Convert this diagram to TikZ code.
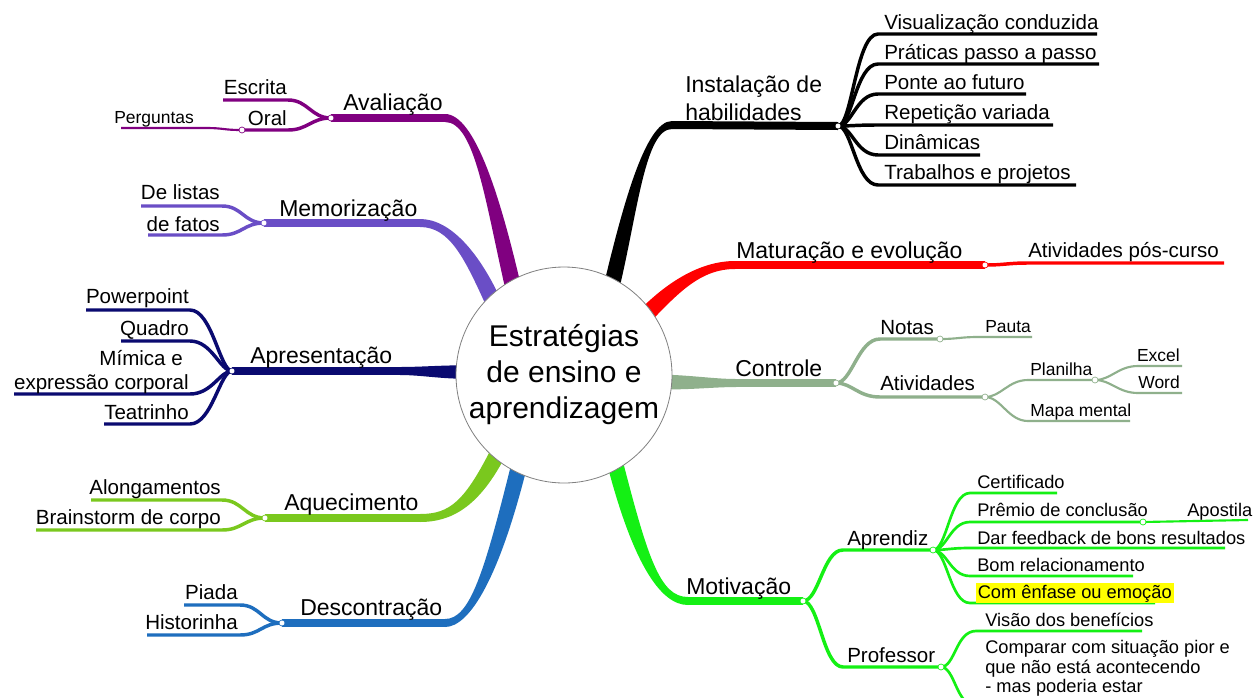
\documentclass[tikz,border=0pt]{standalone}
\usepackage{fontspec}
\setmainfont{Liberation Sans}
\usetikzlibrary{calc}
\definecolor{cAval}{RGB}{128,0,128}
\definecolor{cMemo}{RGB}{106,78,198}
\definecolor{cApre}{RGB}{10,10,112}
\definecolor{cAque}{RGB}{122,200,30}
\definecolor{cDesc}{RGB}{30,110,190}
\definecolor{cInst}{RGB}{0,0,0}
\definecolor{cMatu}{RGB}{255,0,0}
\definecolor{cCont}{RGB}{143,176,140}
\definecolor{cMoti}{RGB}{20,240,20}
\definecolor{cHl}{RGB}{255,255,0}
\definecolor{cRim}{RGB}{128,128,128}
% tapered main branch: colour, P0, C1, C2, P3, half width at start, half width at end
\newcommand\mmtaper[7]{%
  \fill[#1] ($(#2)!#6!90:(#3)$) .. controls ($(#3)!#6!-90:(#2)$) and ($(#4)!#7!90:(#5)$) .. ($(#5)!#7!-90:(#4)$)
    -- ($(#5)!#7!90:(#4)$) .. controls ($(#4)!#7!-90:(#5)$) and ($(#3)!#6!90:(#2)$) .. ($(#2)!#6!-90:(#3)$) -- cycle;}
\begin{document}
\begin{tikzpicture}[x=0.75pt,y=-0.75pt,
  mainlbl/.style={inner sep=0pt, font=\fontsize{17.25pt}{21pt}\selectfont},
  sublbl/.style={inner sep=0pt, font=\fontsize{15.4pt}{18pt}\selectfont},
  smlbl/.style={inner sep=0pt, font=\fontsize{13.1pt}{15pt}\selectfont},
  motlbl/.style={inner sep=0pt, font=\fontsize{13.7pt}{15pt}\selectfont},
  bar/.style={line width=6pt},
  lvtwo/.style={line width=2.6pt},
  lvthree/.style={line width=1.6pt},
  jdot/.style={circle, fill=white, draw=#1, line width=0.5pt, inner sep=0pt, minimum size=4.5pt},
]
\useasboundingbox (0,0) rectangle (1257,697);
\fill[white] (0,0) rectangle (1257,697);
\clip (0,0) rectangle (1257,697);

% ---------------- Avaliação
\coordinate (av0) at (514,291);
\coordinate (av1) at (493,200);
\coordinate (av2) at (475,118);
\coordinate (av3) at (445,118);
\coordinate (avJ) at (331,118);
\coordinate (avEs) at (288,100); \coordinate (avEsE) at (223,100);
\coordinate (avOr) at (288,130); \coordinate (avOrE) at (242,130);
\coordinate (avPe) at (205,128); \coordinate (avPeE) at (121,128);
\mmtaper{cAval}{av0}{av1}{av2}{av3}{6pt}{3pt}
\draw[cAval,bar] (av3) -- (avJ);
\draw[cAval,lvtwo] (avJ) .. controls +(-20,0) and +(20,0) .. (avEs) -- (avEsE);
\draw[cAval,lvtwo] (avJ) .. controls +(-20,0) and +(20,0) .. (avOr) -- (avOrE);
\draw[cAval,lvthree] (avOrE) .. controls +(-20,0) and +(20,0) .. (avPe) -- (avPeE);
\node[jdot=cAval] (avJd) at (avJ) {};
\node[jdot=cAval] (avOd) at (avOrE) {};
\node[mainlbl,anchor=base west] (avL) at (343,110) {Avaliação};
\node[sublbl,anchor=base east] (esL) at (287,94) {Escrita};
\node[sublbl,anchor=base east] (orL) at (287,125) {Oral};
\node[smlbl,anchor=base west] (peL) at (114,123) {Perguntas};

% ---------------- Memorização
\coordinate (mm0) at (495,306);
\coordinate (mm1) at (472,255);
\coordinate (mm2) at (450,223);
\coordinate (mm3) at (420,223);
\coordinate (mmJ) at (264,223);
\coordinate (mmA) at (222,206); \coordinate (mmAE) at (141,206);
\coordinate (mmB) at (222,235); \coordinate (mmBE) at (148,235);
\mmtaper{cMemo}{mm0}{mm1}{mm2}{mm3}{6pt}{3pt}
\draw[cMemo,bar] (mm3) -- (mmJ);
\draw[cMemo,lvtwo] (mmJ) .. controls +(-20,0) and +(20,0) .. (mmA) -- (mmAE);
\draw[cMemo,lvtwo] (mmJ) .. controls +(-20,0) and +(20,0) .. (mmB) -- (mmBE);
\node[jdot=cMemo] (mmJd) at (mmJ) {};
\node[mainlbl,anchor=base west] (mmL) at (279,216) {Memorização};
\node[sublbl,anchor=base east] (dlL) at (220,199) {De listas};
\node[sublbl,anchor=base east] (dfL) at (220,231) {de fatos};

% ---------------- Apresentação
\coordinate (ap0) at (462,372);
\coordinate (ap1) at (440,372);
\coordinate (ap2) at (420,371);
\coordinate (ap3) at (400,371);
\coordinate (apJ) at (232,371);
\coordinate (apP) at (190,310); \coordinate (apPE) at (86,310);
\coordinate (apQ) at (190,341); \coordinate (apQE) at (121,341);
\coordinate (apM) at (190,394); \coordinate (apME) at (14,394);
\coordinate (apT) at (190,424); \coordinate (apTE) at (104,424);
\mmtaper{cApre}{ap0}{ap1}{ap2}{ap3}{5pt}{3pt}
\draw[cApre,bar] (ap3) -- (apJ);
\draw[cApre,lvtwo] (apJ) .. controls +(-12,0) and +(22,0) .. (apP) -- (apPE);
\draw[cApre,lvtwo] (apJ) .. controls +(-12,0) and +(22,0) .. (apQ) -- (apQE);
\draw[cApre,lvtwo] (apJ) .. controls +(-12,0) and +(22,0) .. (apM) -- (apME);
\draw[cApre,lvtwo] (apJ) .. controls +(-12,0) and +(22,0) .. (apT) -- (apTE);
\node[jdot=cApre] (apJd) at (apJ) {};
\node[mainlbl,anchor=base west] (apL) at (250,363) {Apresentação};
\node[sublbl,anchor=base east] (ppL) at (189,303) {Powerpoint};
\node[sublbl,anchor=base east] (quL) at (189,335) {Quadro};
\node[sublbl,anchor=base east] (miL) at (183,365) {Mímica e};
\node[sublbl,anchor=base east] (exL) at (189,389) {expressão corporal};
\node[sublbl,anchor=base east] (teL) at (189,419) {Teatrinho};

% ---------------- Aquecimento
\coordinate (aq0) at (500,449);
\coordinate (aq1) at (472,505);
\coordinate (aq2) at (450,518);
\coordinate (aq3) at (420,518);
\coordinate (aqJ) at (265,518);
\coordinate (aqA) at (222,500); \coordinate (aqAE) at (91,500);
\coordinate (aqB) at (222,530); \coordinate (aqBE) at (36,530);
\mmtaper{cAque}{aq0}{aq1}{aq2}{aq3}{6pt}{3pt}
\draw[cAque,bar] (aq3) -- (aqJ);
\draw[cAque,lvtwo] (aqJ) .. controls +(-20,0) and +(20,0) .. (aqA) -- (aqAE);
\draw[cAque,lvtwo] (aqJ) .. controls +(-20,0) and +(20,0) .. (aqB) -- (aqBE);
\node[jdot=cAque] (aqJd) at (aqJ) {};
\node[mainlbl,anchor=base west] (aqL) at (284,510) {Aquecimento};
\node[sublbl,anchor=base east] (alL) at (221,494) {Alongamentos};
\node[sublbl,anchor=base east] (brL) at (221,524) {Brainstorm de corpo};

% ---------------- Descontração
\coordinate (de0) at (520,462);
\coordinate (de1) at (492,575);
\coordinate (de2) at (470,623);
\coordinate (de3) at (445,623);
\coordinate (deJ) at (282,623);
\coordinate (deA) at (240,605); \coordinate (deAE) at (184,605);
\coordinate (deB) at (240,635); \coordinate (deBE) at (147,635);
\mmtaper{cDesc}{de0}{de1}{de2}{de3}{6pt}{3pt}
\draw[cDesc,bar] (de3) -- (deJ);
\draw[cDesc,lvtwo] (deJ) .. controls +(-20,0) and +(20,0) .. (deA) -- (deAE);
\draw[cDesc,lvtwo] (deJ) .. controls +(-20,0) and +(20,0) .. (deB) -- (deBE);
\node[jdot=cDesc] (deJd) at (deJ) {};
\node[mainlbl,anchor=base west] (deL) at (300,615) {Descontração};
\node[sublbl,anchor=base east] (piL) at (238,599) {Piada};
\node[sublbl,anchor=base east] (hiL) at (238,629) {Historinha};

% ---------------- Instalação de habilidades
\coordinate (in0) at (611,289);
\coordinate (in1) at (630,210);
\coordinate (in2) at (645,125);
\coordinate (in3) at (672,125);
\coordinate (inJ) at (838,126);
\coordinate (inA) at (878,34);  \coordinate (inAE) at (1097,34);
\coordinate (inB) at (878,64);  \coordinate (inBE) at (1099,64);
\coordinate (inC) at (878,94);  \coordinate (inCE) at (1026,94);
\coordinate (inD) at (878,125); \coordinate (inDE) at (1053,125);
\coordinate (inE) at (878,155); \coordinate (inEE) at (980,155);
\coordinate (inF) at (878,185); \coordinate (inFE) at (1076,185);
\mmtaper{cInst}{in0}{in1}{in2}{in3}{6pt}{3pt}
\draw[cInst,bar] (in3) -- (inJ);
\foreach \p in {inA,inB,inC,inD,inE,inF}
  \draw[cInst,lvtwo] (inJ) .. controls +(14,0) and +(-22,0) .. (\p) -- (\p E);
\node[jdot=cInst] (inJd) at (inJ) {};
\node[mainlbl,anchor=base west] (inL1) at (685,92) {Instalação de};
\node[mainlbl,anchor=base west] (inL2) at (685,120) {habilidades};
\node[sublbl,anchor=base west] (viL) at (884,29) {Visualização conduzida};
\node[sublbl,anchor=base west] (prL) at (884,59) {Práticas passo a passo};
\node[sublbl,anchor=base west] (poL) at (884,89) {Ponte ao futuro};
\node[sublbl,anchor=base west] (reL) at (884,119) {Repetição variada};
\node[sublbl,anchor=base west] (diL) at (884,149) {Dinâmicas};
\node[sublbl,anchor=base west] (trL) at (884,179) {Trabalhos e projetos};

% ---------------- Maturação e evolução
\coordinate (ma0) at (643,318);
\coordinate (ma1) at (672,288);
\coordinate (ma2) at (700,265);
\coordinate (ma3) at (735,265);
\coordinate (maJ) at (985,265);
\coordinate (maA) at (1028,263); \coordinate (maAE) at (1224,263);
\mmtaper{cMatu}{ma0}{ma1}{ma2}{ma3}{6pt}{3pt}
\draw[cMatu,bar] (ma3) -- (maJ);
\draw[cMatu,lvtwo] (maJ) .. controls +(20,0) and +(-20,0) .. (maA) -- (maAE);
\node[jdot=cMatu] (maJd) at (maJ) {};
\node[mainlbl,anchor=base west] (maL) at (736,258) {Maturação e evolução};
\node[sublbl,anchor=base west] (apcL) at (1028,257) {Atividades pós-curso};

% ---------------- Controle
\coordinate (co0) at (664,382);
\coordinate (co1) at (690,382.5);
\coordinate (co2) at (715,383);
\coordinate (co3) at (736,383);
\coordinate (coJ) at (836,383);
\coordinate (coN) at (880,339); \coordinate (coNE) at (940,339);
\coordinate (coPa) at (978,337); \coordinate (coPaE) at (1032,337);
\coordinate (coA) at (880,397); \coordinate (coAE) at (985,397);
\coordinate (coPl) at (1028,380); \coordinate (coPlE) at (1095,380);
\coordinate (coEx) at (1138,366); \coordinate (coExE) at (1182,366);
\coordinate (coWo) at (1138,393); \coordinate (coWoE) at (1182,393);
\coordinate (coMa) at (1028,421); \coordinate (coMaE) at (1130,421);
\mmtaper{cCont}{co0}{co1}{co2}{co3}{5.5pt}{3pt}
\draw[cCont,bar] (co3) -- (coJ);
\draw[cCont,lvtwo] (coJ) .. controls +(16,0) and +(-22,0) .. (coN) -- (coNE);
\draw[cCont,lvtwo] (coJ) .. controls +(16,0) and +(-22,0) .. (coA) -- (coAE);
\draw[cCont,lvthree] (coNE) .. controls +(18,0) and +(-18,0) .. (coPa) -- (coPaE);
\draw[cCont,lvthree] (coAE) .. controls +(16,0) and +(-20,0) .. (coPl) -- (coPlE);
\draw[cCont,lvthree] (coAE) .. controls +(16,0) and +(-20,0) .. (coMa) -- (coMaE);
\draw[cCont,lvthree] (coPlE) .. controls +(16,0) and +(-20,0) .. (coEx) -- (coExE);
\draw[cCont,lvthree] (coPlE) .. controls +(16,0) and +(-20,0) .. (coWo) -- (coWoE);
\node[jdot=cCont] (coJd) at (coJ) {};
\node[jdot=cCont] (coNd) at (coNE) {};
\node[jdot=cCont] (coAd) at (coAE) {};
\node[jdot=cCont] (coPd) at (coPlE) {};
\node[mainlbl,anchor=base west] (coL) at (735,376) {Controle};
\node[sublbl,anchor=base west] (noL) at (880,334) {Notas};
\node[smlbl,anchor=base west] (paL) at (985,332) {Pauta};
\node[sublbl,anchor=base west] (atL) at (880,390) {Atividades};
\node[smlbl,anchor=base west] (plL) at (1030,375) {Planilha};
\node[smlbl,anchor=base east] (xlL) at (1180,361) {Excel};
\node[smlbl,anchor=base east] (woL) at (1180,388) {Word};
\node[smlbl,anchor=base west] (mpL) at (1030,416) {Mapa mental};

% ---------------- Motivação
\coordinate (mo0) at (614,459);
\coordinate (mo1) at (640,560);
\coordinate (mo2) at (660,601);
\coordinate (mo3) at (688,601);
\coordinate (moJ) at (803,601);
\coordinate (moA) at (843,550); \coordinate (moAE) at (933,550);
\coordinate (moP) at (843,667); \coordinate (moPE) at (941,667);
\coordinate (maC) at (970,493); \coordinate (maCE) at (1057,493);
\coordinate (maPr) at (970,522); \coordinate (maPrE) at (1143,522);
\coordinate (maAp) at (1248,520);
\coordinate (maD) at (970,548); \coordinate (maDE) at (1225,548);
\coordinate (maB) at (970,576); \coordinate (maBE) at (1133,576);
\coordinate (maE) at (970,603); \coordinate (maEE) at (1155,603);
\coordinate (prV) at (976,631); \coordinate (prVE) at (1142,631);
\coordinate (prC) at (976,706); \coordinate (prCE) at (1240,706);
\mmtaper{cMoti}{mo0}{mo1}{mo2}{mo3}{6pt}{3pt}
\draw[cMoti,bar] (mo3) -- (moJ);
\draw[cMoti,lvtwo] (moJ) .. controls +(16,0) and +(-20,0) .. (moA) -- (moAE);
\draw[cMoti,lvtwo] (moJ) .. controls +(16,0) and +(-20,0) .. (moP) -- (moPE);
\foreach \p in {maC,maPr,maD,maB,maE}
  \draw[cMoti,line width=2pt] (moAE) .. controls +(14,0) and +(-20,0) .. (\p) -- (\p E);
\draw[cMoti,lvthree] (maPrE) -- (maAp);
\foreach \p in {prV,prC}
  \draw[cMoti,line width=2pt] (moPE) .. controls +(14,0) and +(-20,0) .. (\p) -- (\p E);
\node[jdot=cMoti] (moJd) at (moJ) {};
\node[jdot=cMoti] (moAd) at (moAE) {};
\node[jdot=cMoti] (moPd) at (moPE) {};
\node[jdot=cMoti] (maPd) at (maPrE) {};
\node[mainlbl,anchor=base west] (moL) at (686,594) {Motivação};
\node[sublbl,anchor=base west] (aprL) at (847,545) {Aprendiz};
\node[sublbl,anchor=base west] (proL) at (847,662) {Professor};
\node[motlbl,anchor=base west] (ceL) at (977,488) {Certificado};
\node[motlbl,anchor=base west] (pmL) at (977,516) {Prêmio de conclusão};
\node[motlbl,anchor=base west] (aoL) at (1187,516) {Apostila};
\node[motlbl,anchor=base west] (dfbL) at (977,544) {Dar feedback de bons resultados};
\node[motlbl,anchor=base west] (boL) at (977,571) {Bom relacionamento};
\node[motlbl,anchor=base west,fill=cHl,inner xsep=1.5pt,text height=11.5pt,text depth=3.4pt] (cmL) at (975.5,598) {Com ênfase ou emoção};
\node[motlbl,anchor=base west] (vbL) at (985,626) {Visão dos benefícios};
\node[motlbl,anchor=base west] (cp1L) at (985,653) {Comparar com situação pior e};
\node[motlbl,anchor=base west] (cp2L) at (985,673) {que não está acontecendo};
\node[motlbl,anchor=base west] (cp3L) at (985,692) {- mas poderia estar};

% ---------------- centre
\node[circle, draw=cRim, line width=0.6pt, fill=white, minimum size=162pt, inner sep=0pt,
  align=center, font=\fontsize{22.5pt}{27pt}\selectfont] (C) at (564,375)
  {Estratégias\\de ensino e\\aprendizagem};
\end{tikzpicture}
\end{document}
